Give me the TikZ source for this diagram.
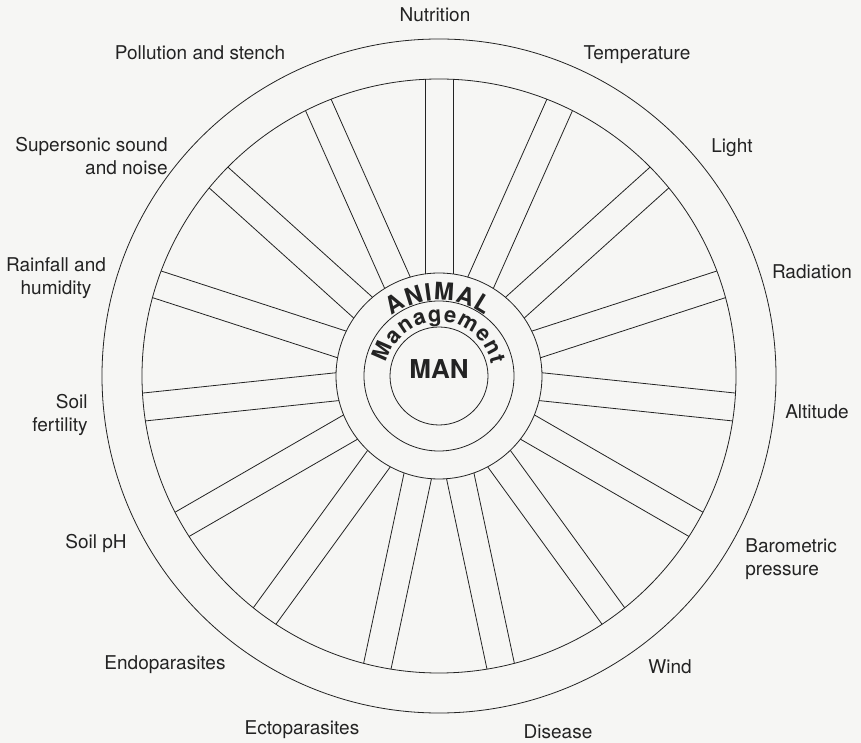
\documentclass[tikz,border=0pt]{standalone}
\usepackage{fontspec}
\setmainfont{TeX Gyre Heros}
\definecolor{paper}{RGB}{246,246,244}
\definecolor{ink}{RGB}{35,35,35}

\begin{document}
\begin{tikzpicture}[x=1pt, y=1pt, line width=0.8pt,
	factor/.style={font=\fontsize{19}{23}\selectfont, text=ink, inner sep=0pt},
	hubtext/.style={font=\bfseries\fontsize{26}{26}\selectfont, text=ink, inner sep=0pt},
	hubletter/.style={text=ink, inner sep=0pt, anchor=base}]
			\fill[paper] (-439,-367) rectangle (422,376);
			\useasboundingbox (-439,-367) rectangle (422,376);
			% wheel
			\draw[ink] (0,0) circle (337);
			\draw[ink] (0,0) circle (297);
			\draw[ink] (0,0) circle (103);
			\draw[ink] (0,0) circle (75);
			\draw[ink] (0,0) circle (49);
			\foreach \a in {90,114,...,426}{
				\draw[ink, rotate=\a] (102.0,14) -- (296.7,14);
				\draw[ink, rotate=\a] (102.0,-14) -- (296.7,-14);
			}
			% hub, letters set round the rings
			\foreach \ch/\ang [count=\i] in {A/121.5,N/107.5,I/97.5,M/86.5,A/71.5,L/58.5}
				\node[hubletter, font=\bfseries\fontsize{24}{24}\selectfont, rotate=\ang-90](animal-\i) at (\ang:76){\ch};
			\foreach \ch/\ang [count=\i] in {M/156.3,a/138.8,n/123.9,a/109.0,g/94.2,e/79.3,m/61.2,e/43.0,n/28.2,t/15.9}
				\node[hubletter, font=\bfseries\fontsize{22}{22}\selectfont, rotate=\ang-90](mgmt-\i) at (\ang:54){\ch};
			\node[hubtext](man) at (0,7){MAN};
			% factors
			\node[factor](nutrition) at (-4,361){Nutrition};
			\node[factor](temperature) at (198,321){Temperature};
			\node[factor](light) at (293,228){Light};
			\node[factor](radiation) at (373,104){Radiation};
			\node[factor](altitude) at (378,-36){Altitude};
			\node[factor, anchor=west, align=left](pressure) at (306,-183){Barometric\\pressure};
			\node[factor](wind) at (231,-291){Wind};
			\node[factor](disease) at (119,-356){Disease};
			\node[factor](ectoparasites) at (-137,-354){Ectoparasites};
			\node[factor](endoparasites) at (-274,-289){Endoparasites};
			\node[factor](soilph) at (-343,-167){Soil pH};
			\node[factor, anchor=east, align=right](fertility) at (-351,-39){Soil\\fertility};
			\node[factor, align=center](rainfall) at (-383,98){Rainfall and\\humidity};
			\node[factor, anchor=east, align=right](sound) at (-271,220){Supersonic sound\\and noise};
			\node[factor](pollution) at (-239,323){Pollution and stench};
\end{tikzpicture}
\end{document}
